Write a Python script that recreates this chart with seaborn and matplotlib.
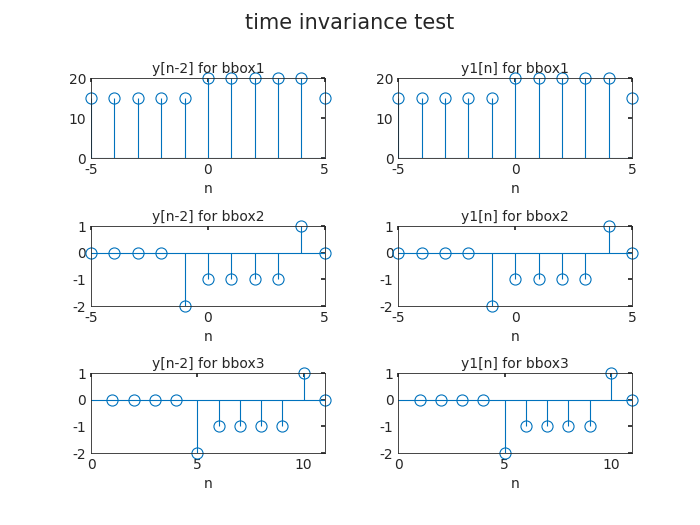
import numpy as np
import matplotlib
matplotlib.use('Agg')
import matplotlib.pyplot as plt
import seaborn as sns

sns.set_theme(style='white')
plt.rcParams['font.family'] = ['DejaVu Sans']
plt.rcParams['axes.unicode_minus'] = False

n_a = [-5, -4, -3, -2, -1, 0, 1, 2, 3, 4, 5]
n_c = [1, 2, 3, 4, 5, 6, 7, 8, 9, 10, 11]
bbox1 = [15, 15, 15, 15, 15, 20, 20, 20, 20, 20, 15]
bbox2 = [0, 0, 0, 0, -2, -1, -1, -1, -1, 1, 0]
bbox3 = [0, 0, 0, 0, -2, -1, -1, -1, -1, 1, 0]

rows = [
    (n_a, bbox1, 'bbox1', (-5, 5), [-5, 0, 5], (0, 20), [0, 10, 20]),
    (n_a, bbox2, 'bbox2', (-5, 5), [-5, 0, 5], (-2, 1), [-2, -1, 0, 1]),
    (n_c, bbox3, 'bbox3', (0, 11), [0, 5, 10], (-2, 1), [-2, -1, 0, 1]),
]
bottoms = [0.699, 0.417, 0.137]
lefts = [0.13, 0.569]
blue = '#0072BD'

fig = plt.figure(figsize=(7, 5.25), dpi=100)
fig.suptitle('time invariance test', fontsize=15, y=0.975)
for r, (n, y, name, xl, xt, yl, yt) in enumerate(rows):
    for c, prefix in enumerate(['y[n-2]', 'y1[n]']):
        ax = fig.add_axes([lefts[c], bottoms[r], 0.334, 0.152])
        ml, sl, bl = ax.stem(n, y, basefmt=' ')
        plt.setp(sl, color=blue, linewidth=0.8)
        plt.setp(ml, color=blue, markerfacecolor='none', markersize=8,
                 markeredgewidth=0.8, clip_on=False)
        ax.axhline(0, color=blue, linewidth=0.8)
        ax.set_xlim(*xl)
        ax.set_ylim(*yl)
        ax.set_xticks(xt)
        ax.set_yticks(yt)
        ax.set_title(f'{prefix} for {name}', fontsize=10, pad=4)
        ax.set_xlabel('n', fontsize=10)
        ax.tick_params(direction='in', length=3, labelsize=10, top=True, right=True,
                       color='#262626', labelcolor='#262626')
        for s in ax.spines.values():
            s.set_color('#262626')
            s.set_linewidth(0.6)

fig.savefig('out.png', dpi=100, facecolor='white')
